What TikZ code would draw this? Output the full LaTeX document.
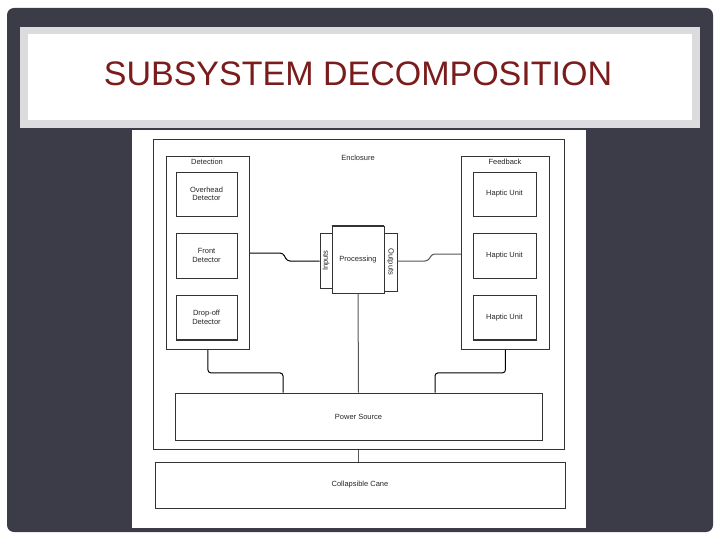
\documentclass[tikz,border=0pt]{standalone}
\usepackage{fontspec}
\setmainfont{Liberation Sans}
\usetikzlibrary{calc}
\definecolor{slate}{HTML}{3B3C47}
\definecolor{band}{HTML}{DCDCDE}
\definecolor{titlered}{HTML}{7A1C1C}
\definecolor{edge}{HTML}{333333}
\definecolor{wire}{HTML}{555555}
\tikzset{
  box/.style={draw=edge, line width=0.9pt, fill=white, inner sep=0pt, font=\fontsize{7.5}{8.5}\selectfont, align=center, text=black!85},
  tab/.style={draw=edge, line width=0.9pt, fill=white, inner sep=0pt, font=\fontsize{7.5}{8.5}\selectfont},
  lbl/.style={inner sep=0pt, font=\fontsize{7.5}{8.5}\selectfont, text=black!85},
  conn/.style={draw=wire, line width=1pt, rounded corners=3pt},
}
\begin{document}
\begin{tikzpicture}[x=1pt,y=-1pt]
\useasboundingbox (0,0) rectangle (720,540);
% slide background
\fill[slate, rounded corners=7pt] (7,8) rectangle (713,532);
% title band
\fill[band] (20,27) rectangle (700,128);
\fill[white] (28,34) rectangle (692,120);
\node[inner sep=0pt, text=titlered, font=\fontsize{34}{36}\selectfont] (title) at (358,74) {SUBSYSTEM DECOMPOSITION};
% diagram sheet
\fill[white] (132,130) rectangle (586,528);
% enclosure
\node[box, minimum width=411pt, minimum height=310pt, anchor=north west] (enc) at (153,139) {};
\node[lbl] (enclbl) at (358,158) {Enclosure};
% detection group
\node[box, minimum width=83pt, minimum height=193pt, anchor=north west] (det) at (166,156) {};
\node[lbl] (detlbl) at (207,162) {Detection};
\node[box, minimum width=61pt, minimum height=44pt] (ovh) at (206.5,194) {Overhead\\Detector};
\node[box, minimum width=61pt, minimum height=45pt] (fro) at (206.5,255.5) {Front\\Detector};
\node[box, minimum width=61pt, minimum height=45pt] (drp) at (206.5,317.5) {Drop-off\\Detector};
\draw[edge, line width=2pt] (drp.south west) -- (drp.south east);
% feedback group
\node[box, minimum width=88pt, minimum height=193pt, anchor=north west] (fb) at (461,156) {};
\node[lbl] (fblbl) at (505,162) {Feedback};
\node[box, minimum width=63pt, minimum height=44pt] (h1) at (504.5,194) {Haptic Unit};
\node[box, minimum width=63pt, minimum height=45pt] (h2) at (504.5,255.5) {Haptic Unit};
\node[box, minimum width=63pt, minimum height=45pt] (h3) at (504.5,317.5) {Haptic Unit};
\draw[edge, line width=2pt] (h3.south west) -- (h3.south east);
% processing
\node[tab, minimum width=12pt, minimum height=55pt] (inp) at (326,260.5) {};
\node[lbl, rotate=90] (inplbl) at (inp) {Inputs};
\node[tab, minimum width=13pt, minimum height=58pt] (outp) at (390.5,262) {};
\node[lbl, rotate=-90] (outlbl) at (outp) {Outputs};
\node[box, minimum width=52pt, minimum height=67pt] (proc) at (358,259.5) {Processing};
\draw[edge, line width=2pt] (proc.north west) -- (proc.north east);
% power source and cane
\node[box, minimum width=367pt, minimum height=47pt] (pow) at (358.5,416.5) {Power Source};
\node[box, minimum width=410pt, minimum height=46pt] (cane) at (360,485) {Collapsible Cane};
% connectors
\draw[conn, draw=black] (det.east |- 0,253) -- (283,253) -- (287,261) -- (inp.west |- 0,261);
\draw[conn] (outp.east |- 0,261) -- (428,261) -- (432,254) -- (fb.west |- 0,254);
\draw[conn, draw=black] (det.south) -- ++(0,23) -| ([xshift=-75.5pt]pow.north);
\draw[conn, draw=black] (fb.south) -- ++(0,23) -| ([xshift=76.5pt]pow.north);
\draw[wire, line width=1pt] (proc.south) -- (pow.north);
\draw[wire, line width=1pt] (pow.south |- enc.south) -- (cane.north -| pow.south);
\end{tikzpicture}
\end{document}
